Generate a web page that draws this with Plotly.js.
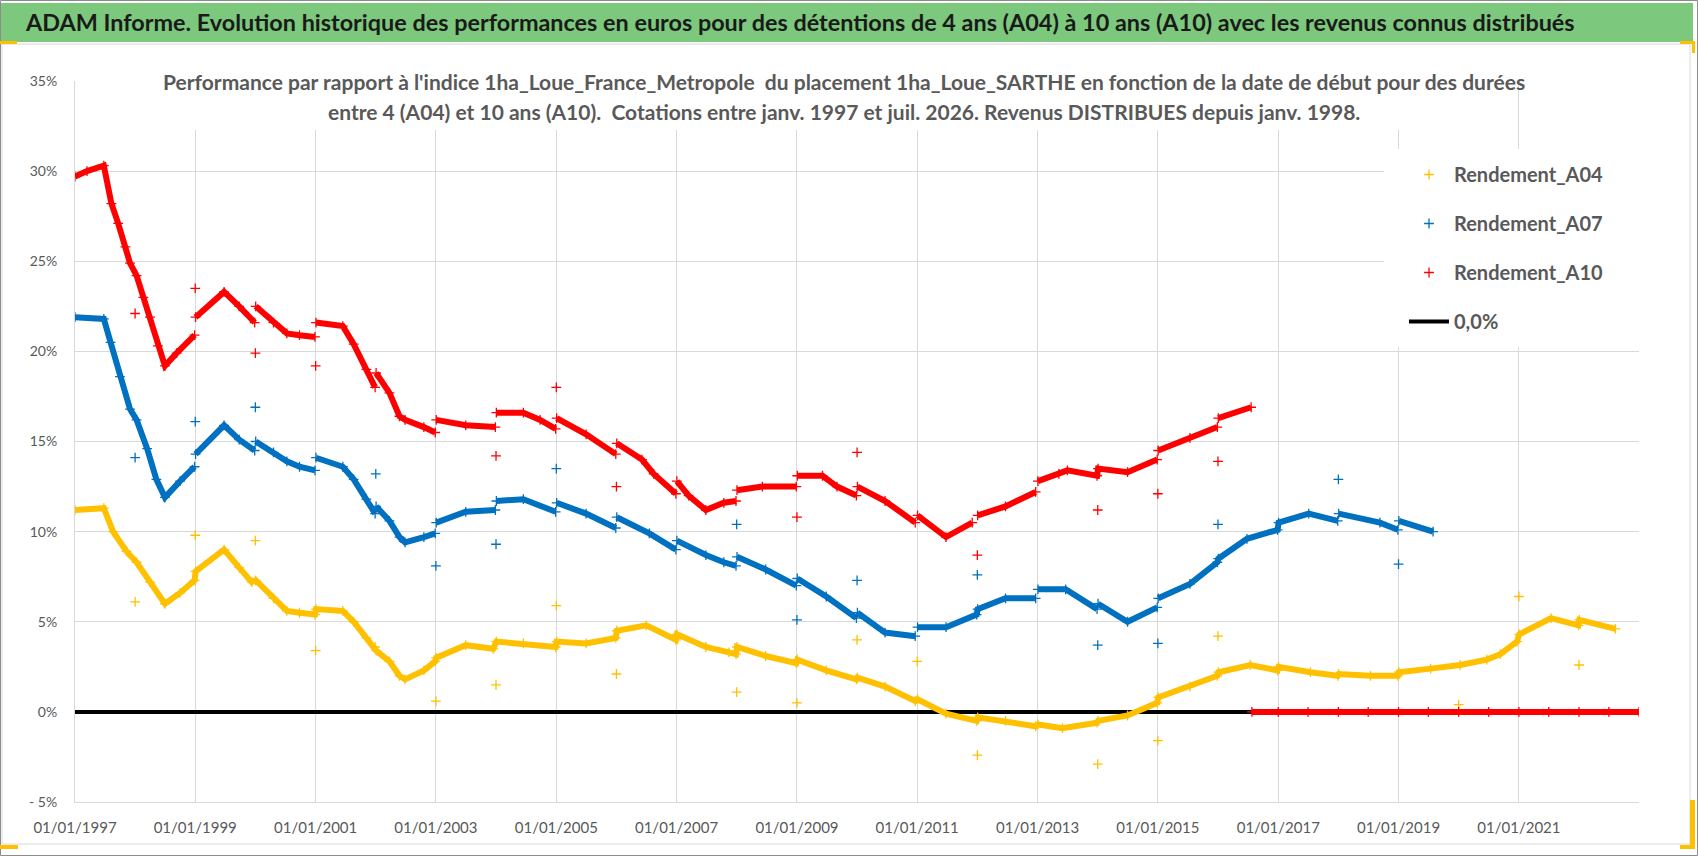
<!DOCTYPE html>
<html>
<head>
<meta charset="utf-8">
<script src="https://cdn.plot.ly/plotly-3.0.1.min.js"></script>
<style>
  html, body { margin: 0; padding: 0; background: #fff; overflow: hidden; }
  #chart { width: 1698px; height: 856px; }
</style>
</head>
<body>
<div id="chart"></div>
<script>
// --- data (values in %) ---
var A04_DATES = [
  "1997-01-01","1997-06-25","1997-08-20","1997-11-10",
  "1998-01-10","1998-04-01","1998-07-01","1998-10-01","1998-12-28",
  "1999-01-03","1999-06-25","1999-09-25","1999-12-10",
  "2000-01-03","2000-04-20","2000-07-10","2000-09-25","2000-12-28",
  "2001-01-03","2001-06-15","2001-08-20","2001-11-05","2001-12-28",
  "2002-01-03","2002-03-25","2002-05-25","2002-06-28","2002-10-20","2002-12-28",
  "2003-01-03","2003-07-01","2003-12-15",
  "2004-01-03","2004-06-15","2004-12-28",
  "2005-01-03","2005-07-01","2005-12-28",
  "2006-01-03","2006-07-01","2006-12-28",
  "2007-01-03","2007-06-28","2007-11-15","2007-12-28",
  "2008-01-03","2008-06-25","2008-12-28",
  "2009-01-03","2009-06-28","2009-12-28",
  "2010-01-03","2010-06-20","2010-12-20",
  "2011-01-03","2011-06-25","2011-12-28",
  "2012-01-03","2012-06-20","2012-12-20",
  "2013-01-03","2013-06-01","2013-12-28",
  "2014-01-03","2014-07-01","2014-12-28",
  "2015-01-03","2015-07-15","2015-12-28",
  "2016-01-03","2016-07-15","2016-12-28",
  "2017-01-03","2017-07-15","2017-12-28",
  "2018-01-03","2018-07-15","2018-12-28",
  "2019-01-03","2019-07-15",
  "2020-01-10","2020-06-20","2020-09-10","2020-12-20",
  "2021-01-03","2021-07-15","2021-12-28",
  "2022-01-03","2022-08-10"
];
var A04_VALS = [
  11.2, 11.3, 10.0, 8.9,
  8.3, 7.2, 6.0, 6.6, 7.3,
  7.8, 9.0, 8.0, 7.2,
  7.3, 6.3, 5.6, 5.5, 5.4,
  5.7, 5.6, 5.0, 4.1, 3.6,
  3.4, 2.8, 2.0, 1.8, 2.3, 2.8,
  3.0, 3.7, 3.5,
  3.9, 3.8, 3.6,
  3.9, 3.8, 4.1,
  4.5, 4.8, 4.0,
  4.3, 3.6, 3.3, 3.2,
  3.6, 3.1, 2.7,
  2.9, 2.3, 1.8,
  1.9, 1.4, 0.6,
  0.7, -0.1, -0.5,
  -0.3, -0.5, -0.8,
  -0.7, -0.9, -0.6,
  -0.5, -0.2, 0.5,
  0.8, 1.4, 2.0,
  2.2, 2.6, 2.3,
  2.5, 2.2, 2.0,
  2.1, 2.0, 2.0,
  2.2, 2.4,
  2.6, 2.9, 3.2, 3.9,
  4.3, 5.2, 4.8,
  5.1, 4.6
];
var A04_OUT_DATES = ["1998-01-01","1999-01-01","2000-01-01","2001-01-01","2003-01-01","2004-01-01",
  "2005-01-01","2006-01-01","2008-01-01","2009-01-01","2010-01-01","2011-01-01","2012-01-01",
  "2014-01-01","2015-01-01","2016-01-01","2020-01-01","2021-01-01","2022-01-01"];
var A04_OUT_VALS = [6.1, 9.8, 9.5, 3.4, 0.6, 1.5, 5.9, 2.1, 1.1, 0.5, 4.0, 2.8, -2.4,
  -2.9, -1.6, 4.2, 0.4, 6.4, 2.6];

var A07_DATES = [
  "1997-01-01","1997-06-25","1997-08-05","1997-10-01","1997-12-01",
  "1998-01-10","1998-03-15","1998-05-10","1998-07-01","1998-10-01","1998-12-28","1998-12-31",
  "1999-01-03","1999-06-25","1999-09-25","1999-12-28","1999-12-31",
  "2000-01-03","2000-04-20","2000-07-10","2000-09-25","2000-12-28","2000-12-31",
  "2001-01-03","2001-06-15","2001-08-20","2001-11-05","2001-12-28","2001-12-31",
  "2002-01-03","2002-03-25","2002-05-25","2002-06-28","2002-10-20","2002-12-28","2002-12-31",
  "2003-01-03","2003-07-01","2003-12-28","2003-12-31",
  "2004-01-03","2004-06-15","2004-12-28","2004-12-31",
  "2005-01-03","2005-07-01","2005-12-28","2005-12-31",
  "2006-01-03","2006-07-20","2006-12-28","2006-12-31",
  "2007-01-03","2007-06-28","2007-10-15","2007-12-28","2007-12-31",
  "2008-01-03","2008-06-25","2008-12-28","2008-12-31",
  "2009-01-03","2009-06-28","2009-12-28","2009-12-31",
  "2010-01-03","2010-06-20","2010-12-20","2010-12-31",
  "2011-01-03","2011-06-25","2011-12-28",
  "2012-01-03","2012-06-20","2012-12-20","2012-12-31",
  "2013-01-03","2013-06-20","2013-12-28","2013-12-31",
  "2014-01-03","2014-07-01","2014-12-28","2014-12-31",
  "2015-01-03","2015-07-15","2015-12-28",
  "2016-01-03","2016-06-25","2016-12-28",
  "2017-01-03","2017-07-05","2017-12-28","2017-12-31",
  "2018-01-03","2018-09-10","2018-12-28","2018-12-31",
  "2019-01-03","2019-07-30"
];
var A07_VALS = [
  21.9, 21.8, 20.5, 18.6, 16.8,
  16.2, 14.6, 12.9, 11.9, 12.8, 13.6, null,
  14.3, 15.9, 15.1, 14.5, null,
  15.0, 14.4, 13.9, 13.6, 13.4, null,
  14.1, 13.6, 12.9, 11.8, 11.0, null,
  11.4, 10.6, 9.7, 9.4, 9.7, 9.9, null,
  10.5, 11.1, 11.2, null,
  11.7, 11.8, 11.1, null,
  11.6, 11.0, 10.2, null,
  10.8, 9.9, 9.0, null,
  9.5, 8.7, 8.3, 8.1, null,
  8.6, 7.9, 7.0, null,
  7.4, 6.4, 5.2, null,
  5.5, 4.4, 4.2, null,
  4.7, 4.7, 5.4,
  5.7, 6.3, 6.3, null,
  6.8, 6.8, 5.7, null,
  6.0, 5.0, 5.8, null,
  6.3, 7.1, 8.3,
  8.5, 9.6, 10.1,
  10.5, 11.0, 10.6, null,
  11.0, 10.5, 10.1, null,
  10.6, 10.0
];
var A07_OUT_DATES = ["1998-01-01","1999-01-01","2000-01-01","2002-01-01","2003-01-01","2004-01-01",
  "2005-01-01","2008-01-01","2009-01-01","2010-01-01","2012-01-01","2014-01-01","2015-01-01",
  "2016-01-01","2018-01-01","2019-01-01"];
var A07_OUT_VALS = [14.1, 16.1, 16.9, 13.2, 8.1, 9.3, 13.5, 10.4, 5.1, 7.3, 7.6, 3.7, 3.8,
  10.4, 12.9, 8.2];

var A10_DATES = [
  "1997-01-01","1997-03-15","1997-06-25","1997-08-10","1997-09-20","1997-11-03","1997-12-01",
  "1998-01-10","1998-02-20","1998-04-01","1998-05-20","1998-07-01","1998-09-10","1998-12-28","1998-12-31",
  "1999-01-03","1999-06-25","1999-09-25","1999-12-28","1999-12-31",
  "2000-01-03","2000-04-20","2000-07-10","2000-09-25","2000-12-28","2000-12-31",
  "2001-01-03","2001-06-15","2001-08-20","2001-11-05","2001-12-28","2001-12-31",
  "2002-01-03","2002-03-25","2002-05-25","2002-06-28","2002-10-20","2002-12-28","2002-12-31",
  "2003-01-03","2003-07-01","2003-12-28","2003-12-31",
  "2004-01-03","2004-06-15","2004-09-25","2004-12-28","2004-12-31",
  "2005-01-03","2005-07-01","2005-12-28","2005-12-31",
  "2006-01-03","2006-06-05","2006-08-15","2006-12-28","2006-12-31",
  "2007-01-03","2007-03-15","2007-06-28","2007-10-15","2007-12-28","2007-12-31",
  "2008-01-03","2008-06-05","2008-12-28","2008-12-31",
  "2009-01-03","2009-06-05","2009-09-01","2009-12-28","2009-12-31",
  "2010-01-03","2010-06-20","2010-12-20","2010-12-31",
  "2011-01-03","2011-06-25","2011-12-01","2011-12-31",
  "2012-01-03","2012-06-20","2012-12-20","2012-12-31",
  "2013-01-03","2013-05-10","2013-07-01","2013-12-28",
  "2014-01-03","2014-07-01","2014-12-28","2014-12-31",
  "2015-01-03","2015-07-15","2015-12-28","2015-12-31",
  "2016-01-03","2016-07-20","2016-07-22",
  "2016-07-25","2017-01-01","2017-07-01","2018-01-01","2018-07-01","2019-01-01","2019-07-01",
  "2020-01-01","2020-07-01","2021-01-01","2021-07-01","2022-01-01","2022-07-01","2022-12-31"
];
var A10_VALS = [
  29.7, 30.0, 30.3, 28.2, 27.1, 25.8, 24.9,
  24.2, 23.0, 21.9, 20.3, 19.2, 19.9, 20.9, null,
  21.9, 23.3, 22.5, 21.6, null,
  22.5, 21.6, 21.0, 20.9, 20.8, null,
  21.6, 21.4, 20.4, 19.0, 18.0, null,
  18.8, 17.7, 16.4, 16.2, 15.8, 15.5, null,
  16.2, 15.9, 15.8, null,
  16.6, 16.6, 16.2, 15.7, null,
  16.3, 15.4, 14.3, null,
  14.9, 14.0, 13.2, 12.1, null,
  12.8, 12.0, 11.2, 11.6, 11.7, null,
  12.3, 12.5, 12.5, null,
  13.1, 13.1, 12.5, 12.0, null,
  12.5, 11.7, 10.5, null,
  10.9, 9.7, 10.5, null,
  10.9, 11.4, 12.2, null,
  12.8, 13.2, 13.4, 13.1,
  13.5, 13.3, 14.0, null,
  14.5, 15.2, 15.8, null,
  16.3, 16.9, null,
  0, 0, 0, 0, 0, 0, 0,
  0, 0, 0, 0, 0, 0, 0
];
var A10_OUT_DATES = ["1998-01-01","1999-01-01","2000-01-01","2001-01-01","2004-01-01","2005-01-01",
  "2006-01-01","2009-01-01","2010-01-01","2012-01-01","2014-01-01","2015-01-01","2016-01-01"];
var A10_OUT_VALS = [22.1, 23.5, 19.9, 19.2, 14.2, 18.0, 12.5, 10.8, 14.4, 8.7, 11.2, 12.1, 13.9];

var ZERO_DATES = ["1997-01-01", "2022-12-31"];
var ZERO_VALS = [0, 0];

var Y_TICK_VALS = [-5, 0, 5, 10, 15, 20, 25, 30, 35];
var Y_TICK_TEXT = ["- 5%", "0%", "5%", "10%", "15%", "20%", "25%", "30%", "35%"];

var TITLE = "ADAM Informe. Evolution historique des performances en euros pour des détentions de 4 ans (A04) à 10 ans (A10) avec les revenus connus distribués";
var SUBTITLE_1 = "Performance par rapport à l'indice 1ha_Loue_France_Metropole  du placement 1ha_Loue_SARTHE en fonction de la date de début pour des durées";
var SUBTITLE_2 = "entre 4 (A04) et 10 ans (A10).  Cotations entre janv. 1997 et juil. 2026. Revenus DISTRIBUES depuis janv. 1998.";

// --- layout helpers (pixel -> paper) ---
var W = 1698, H = 856;
var M = {l: 75, r: 59, t: 81, b: 54};
var PW = W - M.l - M.r, PH = H - M.t - M.b;
function px(x) { return (x - M.l) / PW; }
function py(y) { return (H - M.b - y) / PH; }
function box(x0, y0, x1, y1, fill, line) {
  return {type: 'rect', xref: 'paper', yref: 'paper', layer: 'above',
    x0: px(x0), x1: px(x1), y0: py(y1), y1: py(y0),
    fillcolor: fill || 'rgba(0,0,0,0)',
    line: line ? {color: line, width: 1} : {width: 0}};
}
function label(text, x, y, size) {
  return {text: text, xref: 'paper', yref: 'paper', x: px(x), y: py(y),
    xanchor: 'center', yanchor: 'middle', showarrow: false,
    font: {family: FONT, size: size, weight: 'bold', color: GREY}};
}

var FONT = 'Lato, "Open Sans", sans-serif';
var GREY = '#595959';
var C04 = '#FFC000', C07 = '#0070C0', C10 = '#FF0000';

function bandTrace(x, y, color, group, rank) {
  return {x: x, y: y, type: 'scatter', mode: 'lines', line: {color: color, width: 6},
    connectgaps: false, showlegend: false, legendgroup: group, legendrank: rank, hoverinfo: 'skip'};
}
function markTrace(x, y, color, name, rank) {
  return {x: x, y: y, type: 'scatter', mode: 'markers', name: name, legendgroup: name, legendrank: rank,
    marker: {symbol: 'cross-thin', size: 7, color: color, line: {color: color, width: 1.3}}};
}

var data = [
  {x: ZERO_DATES, y: ZERO_VALS, type: 'scatter', mode: 'lines', name: '0,0%',
    legendgroup: 'zero', legendrank: 4, line: {color: '#000000', width: 4}},
  bandTrace(A04_DATES, A04_VALS, C04, 'Rendement_A04', 1),
  markTrace(A04_DATES.concat(A04_OUT_DATES), A04_VALS.concat(A04_OUT_VALS), C04, 'Rendement_A04', 1),
  bandTrace(A07_DATES, A07_VALS, C07, 'Rendement_A07', 2),
  markTrace(A07_DATES.concat(A07_OUT_DATES), A07_VALS.concat(A07_OUT_VALS), C07, 'Rendement_A07', 2),
  bandTrace(A10_DATES, A10_VALS, C10, 'Rendement_A10', 3),
  markTrace(A10_DATES.concat(A10_OUT_DATES), A10_VALS.concat(A10_OUT_VALS), C10, 'Rendement_A10', 3)
];

var layout = {
  width: W, height: H,
  margin: M,
  paper_bgcolor: '#ffffff', plot_bgcolor: '#ffffff',
  font: {family: FONT, color: GREY},
  title: {text: TITLE, x: 26 / W, xref: 'container', xanchor: 'left',
    y: 1 - 23 / H, yref: 'container', yanchor: 'middle',
    font: {family: FONT, size: 23.4, weight: 'bold', color: '#1a1a1a'}},
  xaxis: {type: 'date', range: ['1997-01-01', '2022-12-31'],
    tick0: '1997-01-01', dtick: 'M24', tickformat: '%d/%m/%Y',
    showgrid: true, gridcolor: '#D9D9D9', gridwidth: 1,
    showline: true, linecolor: '#D9D9D9', linewidth: 1,
    zeroline: false, ticks: '', ticklabelstandoff: 12,
    tickfont: {family: FONT, size: 15, color: GREY}},
  yaxis: {range: [-5, 35], tickvals: Y_TICK_VALS, ticktext: Y_TICK_TEXT,
    showgrid: true, gridcolor: '#D9D9D9', gridwidth: 1,
    showline: true, linecolor: '#D9D9D9', linewidth: 1,
    zeroline: false, ticks: '', ticklabelstandoff: 14,
    tickfont: {family: FONT, size: 14, color: GREY}},
  legend: {x: px(1404), y: py(155), xanchor: 'left', yanchor: 'top',
    bgcolor: 'rgba(0,0,0,0)', itemwidth: 40, tracegroupgap: 20, traceorder: 'grouped',
    font: {family: FONT, size: 20, weight: 'bold', color: GREY}},
  shapes: [
    box(0.5, 0.5, 1697.5, 855.5, null, '#8C8C8C'),
    box(1, 3, 1693, 42, '#7CC87C', null),
    box(2, 44, 1690, 844, null, '#D9D9D9'),
    box(172, 60, 1518, 130, '#ffffff', null),
    box(1384, 149, 1639, 347, '#ffffff', null),
    box(0, 41, 17, 44, '#FFC000', null),
    box(1680, 41, 1695, 44, '#FFC000', null),
    box(1692, 41, 1695, 53, '#FFC000', null),
    box(0, 845, 18, 849, '#FFC000', null),
    box(1690, 800, 1695, 849, '#FFC000', null),
    box(1680, 845, 1695, 849, '#FFC000', null)
  ],
  annotations: [
    label(SUBTITLE_1, 844, 81, 21),
    label(SUBTITLE_2, 844, 112, 21)
  ]
};

Plotly.newPlot('chart', data, layout, {displayModeBar: false, staticPlot: true});
</script>
</body>
</html>
